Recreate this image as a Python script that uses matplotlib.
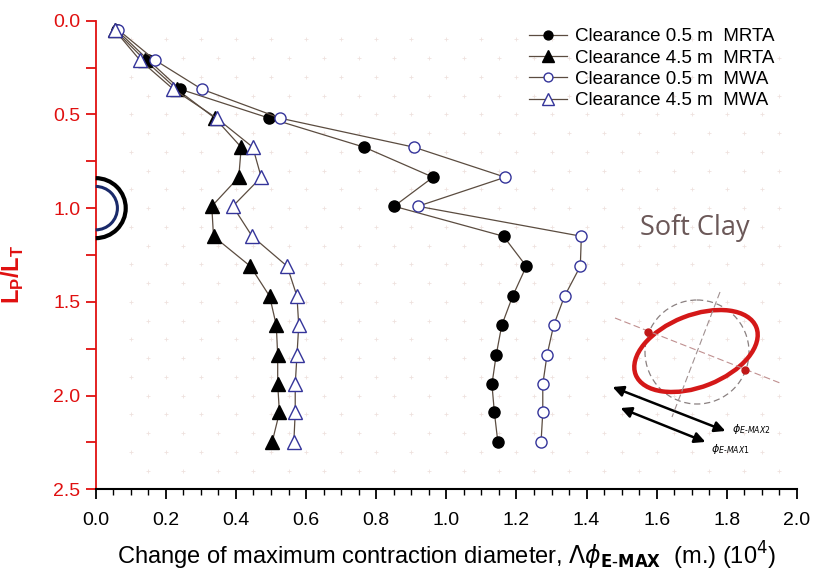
import numpy as np
import matplotlib
matplotlib.use("Agg")
import matplotlib.pyplot as plt
from matplotlib.patches import Arc, Ellipse, Circle, FancyArrowPatch
from matplotlib.ticker import MultipleLocator

plt.rcParams['font.family'] = ['Liberation Sans', 'DejaVu Sans']

# posicao relativa L_P/L_T
lp_lt = [0.05, 0.21, 0.365, 0.52, 0.675, 0.835, 0.99, 1.15,
         1.31, 1.47, 1.625, 1.785, 1.94, 2.09, 2.25]

# variacao do diametro maximo de contracao (10^4 m)
mrta_05 = [0.06, 0.15, 0.24, 0.495, 0.766, 0.962, 0.851, 1.163,
           1.228, 1.189, 1.158, 1.142, 1.130, 1.137, 1.147]
mrta_45 = [0.055, 0.14, 0.231, 0.340, 0.415, 0.408, 0.331, 0.336,
           0.441, 0.496, 0.515, 0.519, 0.519, 0.524, 0.503]
mwa_05 = [0.065, 0.169, 0.302, 0.526, 0.908, 1.168, 0.919, 1.385,
          1.382, 1.337, 1.306, 1.287, 1.275, 1.275, 1.270]
mwa_45 = [0.054, 0.126, 0.221, 0.345, 0.448, 0.472, 0.391, 0.446,
          0.546, 0.574, 0.579, 0.574, 0.569, 0.569, 0.565]

labels = ["Clearance 0.5 m  MRTA", "Clearance 4.5 m  MRTA",
          "Clearance 0.5 m  MWA", "Clearance 4.5 m  MWA"]

W, H = 814, 573
fig = plt.figure(figsize=(W / 100, H / 100), dpi=100)
ax = fig.add_axes([95.7 / W, 1 - 489.3 / H, (797 - 95.7) / W, (489.3 - 20.7) / H])

# fundo pontilhado
for k, yy in enumerate(np.arange(0.1, 2.5, 0.1)):
    xx = np.arange(0.15 if k % 2 else 0.1, 2.0, 0.1)
    ax.scatter(xx, np.full_like(xx, yy), marker='+', s=9, color='#efe2de',
               linewidths=0.6, zorder=0)

line_col = '#5b4c40'
ax.plot(mrta_05, lp_lt, '-', color=line_col, lw=0.9, marker='o', ms=8,
        mfc='black', mec='black', label=labels[0], zorder=3)
ax.plot(mrta_45, lp_lt, '-', color=line_col, lw=0.9, marker='^', ms=10,
        mfc='black', mec='black', label=labels[1], zorder=3)
ax.plot(mwa_05, lp_lt, '-', color=line_col, lw=0.9, marker='o', ms=8,
        mfc='white', mec='#34349a', mew=1.0, label=labels[2], zorder=3)
ax.plot(mwa_45, lp_lt, '-', color=line_col, lw=0.9, marker='^', ms=10,
        mfc='white', mec='#34349a', mew=1.0, label=labels[3], zorder=3)

ax.set_xlim(0, 2.0)
ax.set_ylim(2.5, 0)
ax.xaxis.set_major_locator(MultipleLocator(0.2))
ax.xaxis.set_minor_locator(MultipleLocator(0.05))
ax.yaxis.set_major_locator(MultipleLocator(0.5))
ax.yaxis.set_minor_locator(MultipleLocator(0.25))
ax.xaxis.set_major_formatter(matplotlib.ticker.FormatStrFormatter('%.1f'))
ax.yaxis.set_major_formatter(matplotlib.ticker.FormatStrFormatter('%.1f'))

for s in ['top', 'right']:
    ax.spines[s].set_visible(False)
ax.spines['left'].set_color('#e01010')
ax.spines['left'].set_linewidth(1.3)
ax.spines['bottom'].set_linewidth(1.5)
ax.tick_params(axis='y', which='both', colors='#e01010', labelsize=14, width=1.3)
ax.tick_params(axis='y', which='major', length=7, pad=4)
ax.tick_params(axis='y', which='minor', length=7)
ax.tick_params(axis='x', which='major', length=7, width=1.3, labelsize=14, pad=9)
ax.tick_params(axis='x', which='minor', length=4, width=1.0)

ax.set_ylabel(r'L$_\mathregular{P}$/L$_\mathregular{T}$', color='#e01010', fontsize=17,
              fontweight='bold')
ax.yaxis.set_label_coords(-0.099, 0.459)
ax.set_xlabel(r'Change of maximum contraction diameter, $\Lambda\phi_{\mathbf{E\text{-}MAX}}$  (m.) (10$^4$)',
              fontsize=17, labelpad=8)

leg = ax.legend(loc='upper right', bbox_to_anchor=(0.979, 1.0), frameon=False,
                fontsize=13.5, handlelength=2.0, handletextpad=0.45,
                labelspacing=0.22, borderaxespad=0.0, markerscale=0.8)

# semicirculo do tunel em L_P/L_T = 1
ax.add_patch(Arc((0, 1.0), 2 * 30 / 350.5, 2 * 30 / 187.4, theta1=-90, theta2=90,
                 color='black', lw=3, clip_on=False, zorder=4))
ax.add_patch(Arc((0, 1.0), 2 * 21.7 / 350.5, 2 * 21.7 / 187.4, theta1=-90, theta2=90,
                 color='#1a2a6a', lw=2.2, clip_on=False, zorder=4))

ax.text(1.71, 1.106, 'Soft Clay', fontsize=19.5, color='#6b5858',
        family=['Open Sans', 'DejaVu Sans'], ha='center', va='center')

# esquema da elipse (coordenadas em pixels)
ov = fig.add_axes([0, 0, 1, 1], facecolor='none')
ov.set_xlim(0, W)
ov.set_ylim(H, 0)
ov.axis('off')
ov.add_patch(Circle((697, 352), 52, fill=False, ls=(0, (5, 3)), color='#8a8080', lw=0.9))
ov.plot([615, 780], [318, 383], ls=(0, (6, 3)), color='#c09090', lw=0.8)
ov.plot([720, 672], [292, 417], ls=(0, (6, 3)), color='#a09090', lw=0.8)
ov.add_patch(Ellipse((696, 351), 2 * 64.8, 2 * 35.9, angle=-21.5, fill=False,
                     color='#d41818', lw=3.2))
ov.plot([648, 745], [332, 370], 'o', color='#c01818', ms=5)
for (x0, y0, x1, y1) in [(610, 386, 728, 432), (618, 407, 708, 443)]:
    ov.add_patch(FancyArrowPatch((x0, y0), (x1, y1), arrowstyle='<|-|>',
                                 mutation_scale=16, color='black', lw=1.8))
ov.text(732, 429, r'$\phi_{E\text{-}MAX2}$', fontsize=8, va='center')
ov.text(711, 449, r'$\phi_{E\text{-}MAX1}$', fontsize=8, va='center')

fig.savefig('out.png', dpi=100)
